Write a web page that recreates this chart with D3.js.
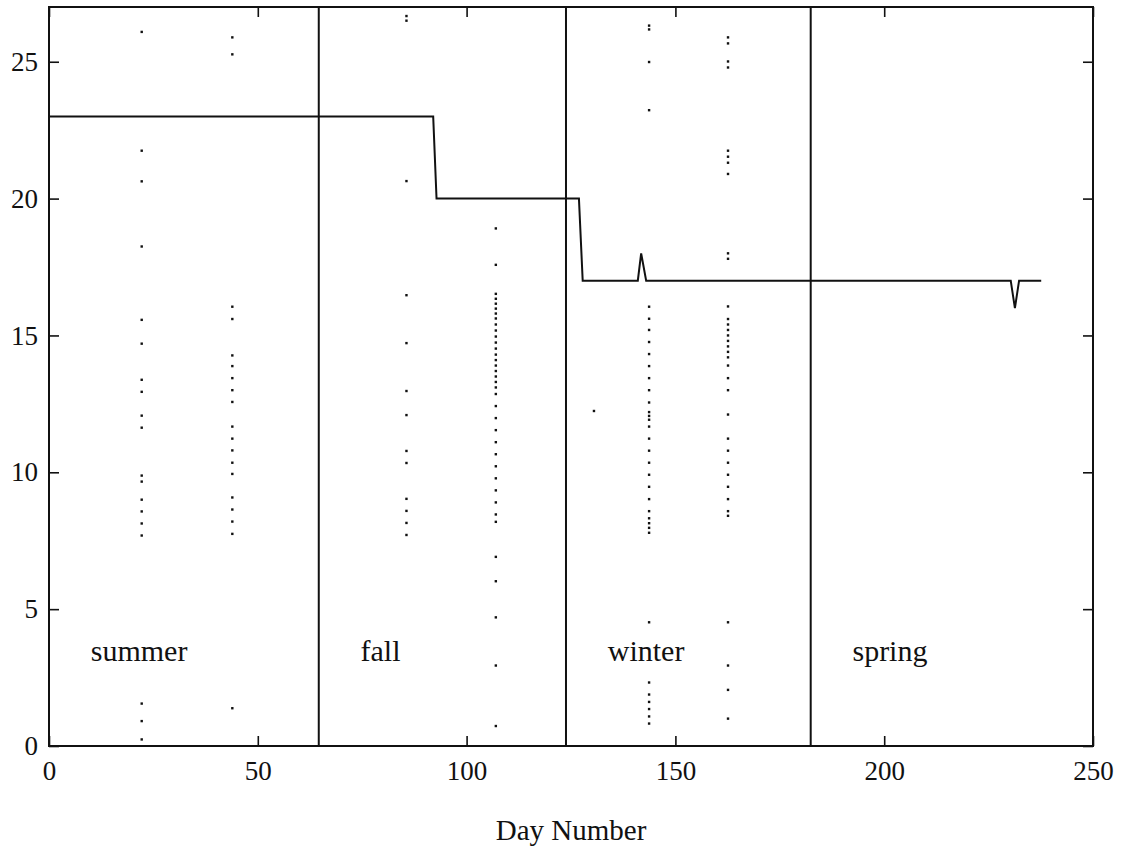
<!DOCTYPE html>
<html lang="en">
<head>
    <meta charset="UTF-8">
    <title>Day Number</title>
    <script src="https://cdn.jsdelivr.net/npm/d3@7"></script>
    <style>
    html,body{
        margin:0;
        background:#fff;
    }
    svg text{
        font-family:"Liberation Serif","DejaVu Serif",serif;
        fill:#111;
    }
    .axis path{ display:none; }
    .axis line{ stroke:#111; stroke-width:1.6; }
    </style>
</head>
<body>
<script>
    // stepped line
    const lineDays = [0, 92.0, 92.8, 126.9, 127.8, 141.0, 141.8, 143.0, 230.3, 231.3, 232.3, 237.6];
    const lineVals = [23, 23, 20, 20, 17, 17, 18, 17, 17, 16, 17, 17];

    // season boundaries (day number)
    const seasonNames = ["summer", "fall", "winter", "spring"];
    const seasonStarts = [0, 64.6, 123.8, 182.4];

    // dotted columns
    const summerA = [26.09, 21.75, 20.63, 18.25, 15.57, 14.7, 13.38, 12.94, 12.07, 11.63, 9.88, 9.66, 9.0, 8.57, 8.13, 7.69, 1.55, 0.91, 0.24];
    const summerB = [25.89, 25.27, 16.05, 15.6, 14.27, 13.88, 13.44, 13.0, 12.57, 11.67, 11.23, 10.8, 10.35, 9.94, 9.08, 8.64, 8.2, 7.75, 1.38];
    const fallA = [26.67, 26.5, 20.64, 16.47, 14.72, 12.97, 12.09, 10.78, 10.34, 9.03, 8.59, 8.15, 7.71];
    const fallB = [18.91, 17.58, 16.52, 16.34, 16.16, 15.98, 15.8, 15.62, 15.4, 15.18, 14.96, 14.74, 14.52, 14.3, 14.1, 13.9, 13.7, 13.5, 13.3, 13.1, 12.86, 12.42, 11.98, 11.54, 11.1, 10.66, 10.22, 9.78, 9.34, 8.9, 8.46, 8.19, 6.91, 6.02, 4.7, 2.94, 0.73];
    const winterA = [26.32, 26.18, 24.99, 23.23, 16.05, 15.61, 15.2, 14.76, 14.32, 13.88, 13.44, 13.0, 12.55, 12.2, 12.06, 11.92, 11.67, 11.23, 10.79, 10.35, 9.91, 9.47, 9.02, 8.58, 8.32, 8.14, 7.97, 7.79, 4.52, 2.32, 1.88, 1.61, 1.35, 1.08, 0.82];
    const winterB = [25.89, 25.67, 25.01, 24.79, 21.75, 21.53, 21.31, 20.9, 18.0, 17.8, 16.06, 15.6, 15.4, 15.2, 15.0, 14.8, 14.6, 14.4, 14.2, 13.9, 13.44, 13.0, 12.11, 11.23, 10.79, 10.35, 9.91, 9.47, 9.02, 8.58, 8.41, 4.52, 2.94, 2.05, 1.0];
    const strayDays = [130.5];
    const strayVals = [12.24];

    const columnDays = [22.2, 43.9, 85.6, 107.0, 143.7, 162.6];
    const columnVals = [summerA, summerB, fallA, fallB, winterA, winterB];

    const xTicks = [0, 50, 100, 150, 200, 250];
    const yTicks = [0, 5, 10, 15, 20, 25];

    const W = 1127, H = 852;
    const margin = {top:7, right:34, bottom:106, left:49};

    let svg = d3.select("body").append("svg")
        .attr("width", W).attr("height", H);

    let x = d3.scaleLinear().domain([0,250]).range([margin.left, W-margin.right]);
    let y = d3.scaleLinear().domain([0,27]).range([H-margin.bottom, margin.top]);

    // axes, ticks pointing inward
    svg.append("g").attr("class","axis")
        .attr("transform",`translate(0,${y(0)})`)
        .call(d3.axisBottom(x).tickValues(xTicks).tickSize(-10).tickPadding(15).tickFormat(d3.format("d")))
        .selectAll("text").attr("font-size",27);
    svg.append("g").attr("class","axis")
        .attr("transform",`translate(0,${y(27)})`)
        .call(d3.axisTop(x).tickValues(xTicks).tickSize(-10).tickFormat(""));
    svg.append("g").attr("class","axis")
        .attr("transform",`translate(${x(0)},0)`)
        .call(d3.axisLeft(y).tickValues(yTicks).tickSize(-10).tickPadding(11).tickFormat(d3.format("d")))
        .selectAll("text").attr("font-size",27);
    svg.append("g").attr("class","axis")
        .attr("transform",`translate(${x(250)},0)`)
        .call(d3.axisRight(y).tickValues(yTicks).tickSize(-10).tickFormat(""));
    svg.selectAll(".axis text").attr("fill","#111");

    // frame
    svg.append("rect")
        .attr("x",x(0)).attr("y",y(27))
        .attr("width",x(250)-x(0)).attr("height",y(0)-y(27))
        .attr("fill","none").attr("stroke","#111").attr("stroke-width",2);

    // season dividers
    svg.selectAll(".divider").data(seasonStarts.slice(1)).enter().append("line")
        .attr("x1",d=>x(d)).attr("x2",d=>x(d))
        .attr("y1",y(27)).attr("y2",y(0))
        .attr("stroke","#111").attr("stroke-width",2);

    // season labels
    svg.selectAll(".season").data(seasonNames).enter().append("text")
        .attr("x",(d,i)=>x(seasonStarts[i]+10))
        .attr("y",y(3.1))
        .attr("font-size",30)
        .text(d=>d);

    // dots
    let dots = [];
    columnDays.forEach((day,i)=>columnVals[i].forEach(v=>dots.push({day:day,v:v})));
    strayDays.forEach((day,i)=>dots.push({day:day,v:strayVals[i]}));
    svg.selectAll(".dot").data(dots).enter().append("rect")
        .attr("x",d=>x(d.day)-1.2).attr("y",d=>y(d.v)-1.2)
        .attr("width",2.4).attr("height",2.4)
        .attr("fill","#111");

    // line
    let line = d3.line().x(d=>x(d[0])).y(d=>y(d[1]));
    svg.append("path")
        .datum(lineDays.map((d,i)=>[d,lineVals[i]]))
        .attr("d",line)
        .attr("fill","none").attr("stroke","#111").attr("stroke-width",2);

    // axis title
    svg.append("text")
        .attr("x",(x(0)+x(250))/2).attr("y",840)
        .attr("text-anchor","middle")
        .attr("font-size",29)
        .text("Day Number");
</script>
</body>
</html>
